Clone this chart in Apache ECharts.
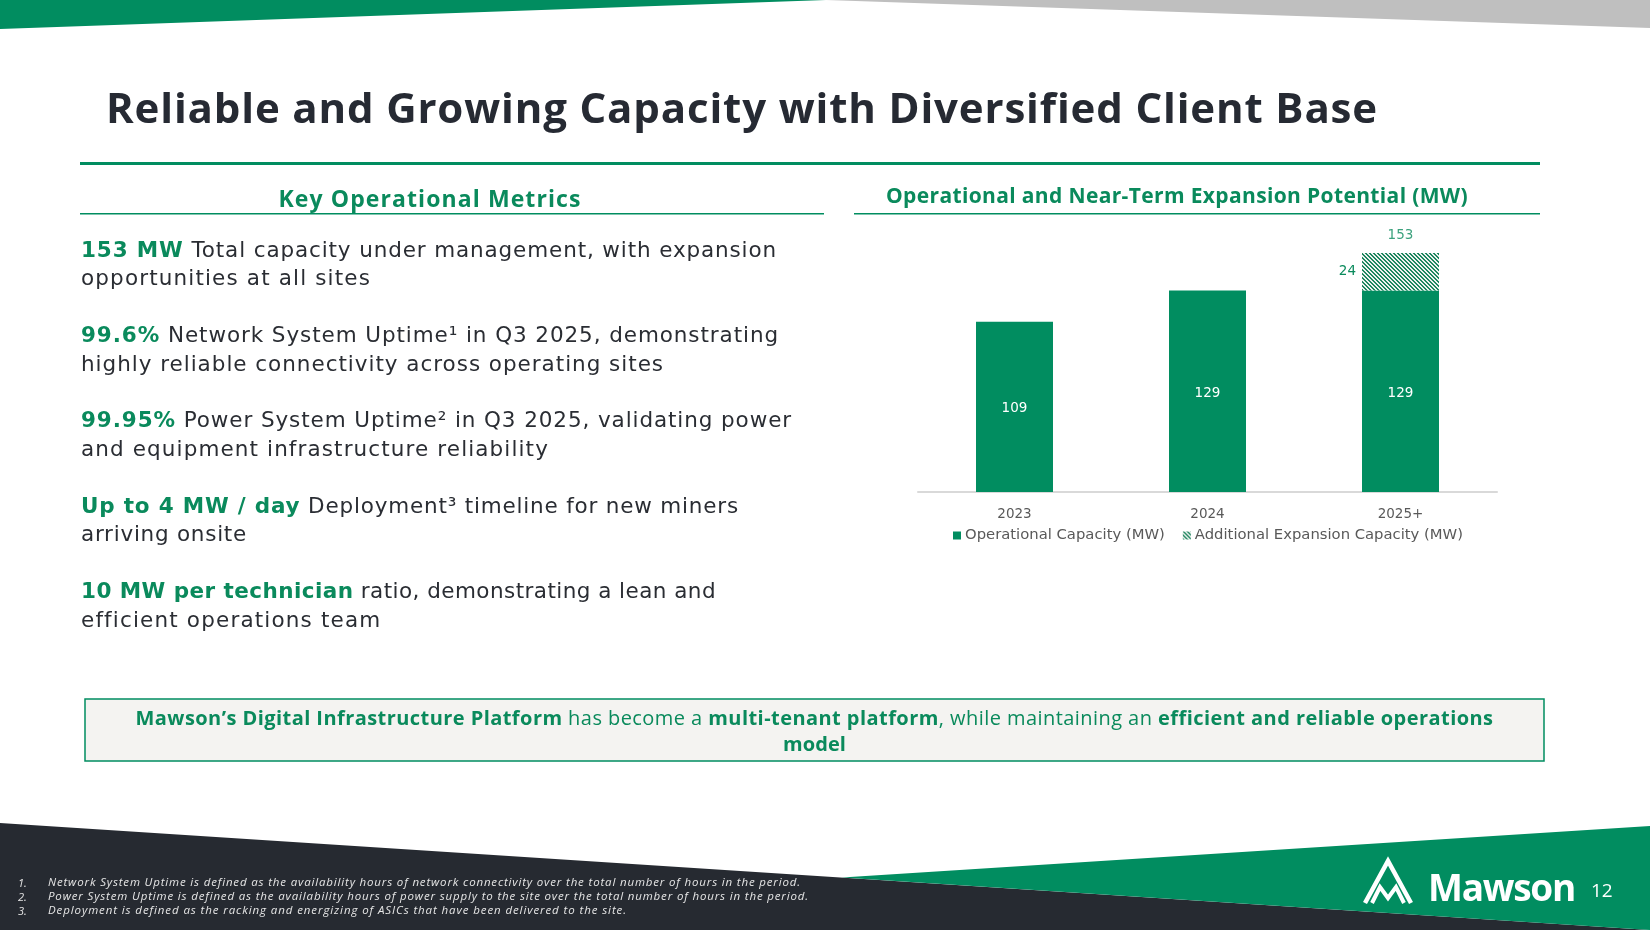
<!DOCTYPE html>
<html>
<head>
<meta charset="utf-8">
<script src="https://cdn.jsdelivr.net/npm/echarts@6/dist/echarts.min.js"></script>
<style>
  html,body{margin:0;padding:0;background:#fff;}
  #wrap{position:relative;width:1650px;height:930px;overflow:hidden;}
  #chart{position:absolute;left:0;top:0;width:1650px;height:930px;}
  .t{position:absolute;white-space:nowrap;font-family:"Open Sans","Noto Sans",sans-serif;}
  .g{color:#0a8a5c;font-weight:700;}
</style>
</head>
<body>
<div id="wrap">
  <div id="chart"></div>
</div>
<script>
// ---------------- data ----------------
const categories = ['2023', '2024', '2025+'];
const operationalMW = [109, 129, 129];
const expansionMW = [null, null, 24];
const totalMW = [null, null, 153];
const seriesNames = ['Operational Capacity (MW)', 'Additional Expansion Capacity (MW)'];

const titleText = 'Reliable and Growing Capacity with Diversified Client Base';
const leftHeader = 'Key Operational Metrics';
const chartHeader = 'Operational and Near-Term Expansion Potential (MW)';
const metricLines = [
  ['<span class="g">153 MW</span> Total capacity under management, with expansion', 'opportunities at all sites'],
  ['<span class="g">99.6%</span> Network System Uptime¹ in Q3 2025, demonstrating', 'highly reliable connectivity across operating sites'],
  ['<span class="g">99.95%</span> Power System Uptime² in Q3 2025, validating power', 'and equipment infrastructure reliability'],
  ['<span class="g">Up to 4 MW / day</span> Deployment³ timeline for new miners', 'arriving onsite'],
  ['<span class="g">10 MW per technician</span> ratio, demonstrating a lean and', 'efficient operations team']
];
const footnotes = [
  'Network System Uptime is defined as the availability hours of network connectivity over the total number of hours in the period.',
  'Power System Uptime is defined as the availability hours of power supply to the site over the total number of hours in the period.',
  'Deployment is defined as the racking and energizing of ASICs that have been delivered to the site.'
];

// ---------------- colours ----------------
const GREEN = '#018d60';
const TEXTGREEN = '#0a8a5c';
const DARK = '#262a31';

// hatch pattern
function hatch() {
  const c = document.createElement('canvas');
  c.width = 4; c.height = 4;
  const ctx = c.getContext('2d');
  const img = ctx.createImageData(4, 4);
  for (let y = 0; y < 4; y++) for (let x = 0; x < 4; x++) {
    const i = (y * 4 + x) * 4;
    const on = ((x - y + 8) % 4) < 2;
    const col = on ? [30, 135, 95] : [238, 242, 240];
    img.data[i] = col[0]; img.data[i + 1] = col[1]; img.data[i + 2] = col[2]; img.data[i + 3] = 255;
  }
  ctx.putImageData(img, 0, 0);
  return c;
}
const hatchPattern = { image: hatch(), repeat: 'repeat' };

// ---------------- chart ----------------
const chart = echarts.init(document.getElementById('chart'));
const FONT = '"DejaVu Sans", "Open Sans", sans-serif';
const BODY = '"DejaVu Sans", "Open Sans", sans-serif';

const option = {
  animation: false,
  textStyle: { fontFamily: FONT },
  grid: { left: 918, right: 153, top: 242, bottom: 438, containLabel: false },
  xAxis: {
    type: 'category', data: categories,
    axisLine: { lineStyle: { color: '#d9d9d9', width: 2 } },
    axisTick: { show: false },
    axisLabel: { color: '#595959', fontSize: 13.5, margin: 15, fontFamily: FONT }
  },
  yAxis: { type: 'value', min: 0, max: 160, show: false, splitLine: { show: false } },
  legend: {
    data: [
      { name: seriesNames[0], icon: 'rect' },
      { name: seriesNames[1], icon: 'rect' }
    ],
    left: 948, top: 523, itemWidth: 8, itemHeight: 8, itemGap: 18,
    textStyle: { color: '#595959', fontSize: 14.8, fontFamily: FONT, padding: [0, 0, 0, -1] }
  },
  graphic: [
    // top band
    { type: 'polygon', shape: { points: [[0, 0], [826, 0], [0, 29]] }, style: { fill: GREEN }, silent: true },
    { type: 'polygon', shape: { points: [[826, 0], [1650, 0], [1650, 28]] }, style: { fill: '#bfbfbf' }, silent: true },
    // header rules
    { type: 'rect', shape: { x: 80, y: 162, width: 1460, height: 3 }, style: { fill: GREEN }, silent: true },
    { type: 'rect', shape: { x: 80, y: 213, width: 744, height: 1.5 }, style: { fill: GREEN }, silent: true },
    { type: 'rect', shape: { x: 854, y: 213, width: 686, height: 1.5 }, style: { fill: GREEN }, silent: true },
    // summary box
    { type: 'rect', shape: { x: 85, y: 699, width: 1459, height: 62 }, style: { fill: '#f4f3f1', stroke: GREEN, lineWidth: 1.5 }, silent: true },
    // bottom bands
    { type: 'polygon', shape: { points: [[0, 823], [1650, 930], [0, 930]] }, style: { fill: DARK }, silent: true },
    { type: 'polygon', shape: { points: [[842, 877.6], [1650, 826], [1650, 930]] }, style: { fill: GREEN }, silent: true },
    // logo mark
    { type: 'polyline', shape: { points: [[1365, 903], [1388, 861], [1411, 903]] }, style: { stroke: '#fff', lineWidth: 4.5, fill: null, lineJoin: 'miter' }, silent: true },
    { type: 'polyline', shape: { points: [[1372, 903], [1380, 887], [1388, 898], [1396, 887], [1404, 903]] }, style: { stroke: '#fff', lineWidth: 4, fill: null, lineJoin: 'miter' }, silent: true }
  ],
  series: [
    {
      name: seriesNames[0], type: 'bar', stack: 'cap', data: operationalMW, barWidth: 77,
      itemStyle: { color: GREEN },
      label: { show: true, position: 'inside', color: '#fff', fontSize: 13.5, fontFamily: FONT, offset: [0, 2] }
    },
    {
      name: seriesNames[1], type: 'bar', stack: 'cap', data: expansionMW, barWidth: 77,
      itemStyle: { color: hatchPattern },
      label: { show: true, position: 'left', distance: 6, color: TEXTGREEN, fontSize: 13.5, fontFamily: FONT }
    },
    {
      name: 'Total', type: 'scatter', data: totalMW, symbolSize: 1, itemStyle: { color: 'rgba(0,0,0,0)' },
      label: { show: true, position: 'top', distance: 10, color: TEXTGREEN, fontSize: 13.5, fontFamily: FONT },
      silent: true
    }
  ]
};
chart.setOption(option);

// ---------------- HTML text ----------------
const wrap = document.getElementById('wrap');
const fits = [];
function addText(o) {
  const d = document.createElement('div');
  d.className = 't';
  d.innerHTML = o.html;
  const lh = Math.round(o.size * 1.35);
  d.style.fontSize = o.size + 'px';
  d.style.lineHeight = lh + 'px';
  d.style.top = (o.y - lh / 2) + 'px';
  d.style.color = o.color || '#2e3238';
  if (o.weight) d.style.fontWeight = o.weight;
  if (o.italic) d.style.fontStyle = 'italic';
  if (o.font) d.style.fontFamily = o.font;
  d.style.left = (o.x != null ? o.x : 0) + 'px';
  wrap.appendChild(d);
  fits.push({ el: d, o: o });
  return d;
}
function fitAll() {
  fits.forEach(f => {
    const el = f.el, o = f.o;
    if (o.w) {
      el.style.letterSpacing = '0px';
      const w = el.getBoundingClientRect().width;
      const n = el.textContent.length;
      if (n > 1) el.style.letterSpacing = ((o.w - w) / n) + 'px';
    }
    if (o.cx != null) {
      const w2 = el.getBoundingClientRect().width;
      el.style.left = (o.cx - w2 / 2) + 'px';
    }
  });
}

addText({ html: titleText, x: 106, y: 106, size: 42, weight: 700, color: '#262a33', w: 1272 });
addText({ html: leftHeader, cx: 430, y: 198, size: 23, weight: 700, color: TEXTGREEN, w: 303 });
addText({ html: chartHeader, cx: 1177, y: 195, size: 21, weight: 700, color: TEXTGREEN, w: 582 });

const metricY = [[249, 277], [334.6, 363], [419, 448], [505, 533.5], [590, 619]];
const metricW = [[696, 290], [698, 583], [711, 468], [658, 166], [635, 300]];
metricLines.forEach((pair, i) => {
  pair.forEach((line, j) => {
    addText({ html: line, x: 81, y: metricY[i][j], size: 21.5, color: '#2a2d33', w: metricW[i][j], font: BODY });
  });
});

addText({
  html: '<b>Mawson’s Digital Infrastructure Platform</b> has become a <b>multi-tenant platform</b>, while maintaining an <b>efficient and reliable operations</b>',
  cx: 814.5, y: 717.6, size: 20, color: TEXTGREEN, w: 1358
});
addText({ html: '<b>model</b>', cx: 814.5, y: 743, size: 20, color: TEXTGREEN, w: 63 });

const fnY = [882, 896, 910];
const fnW = [753, 761, 579];
footnotes.forEach((f, i) => {
  addText({ html: (i + 1) + '.', x: 18, y: fnY[i], size: 11, italic: true, color: '#e6e6e6' });
  addText({ html: f, x: 48, y: fnY[i], size: 11.5, italic: true, color: '#e6e6e6', w: fnW[i] });
});

addText({ html: 'Mawson', x: 1428, y: 887, size: 37, weight: 700, color: '#ffffff', w: 147 });
addText({ html: '12', x: 1591, y: 890, size: 19, color: '#ffffff' });

fitAll();
if (document.fonts && document.fonts.ready) document.fonts.ready.then(fitAll);
</script>
</body>
</html>
